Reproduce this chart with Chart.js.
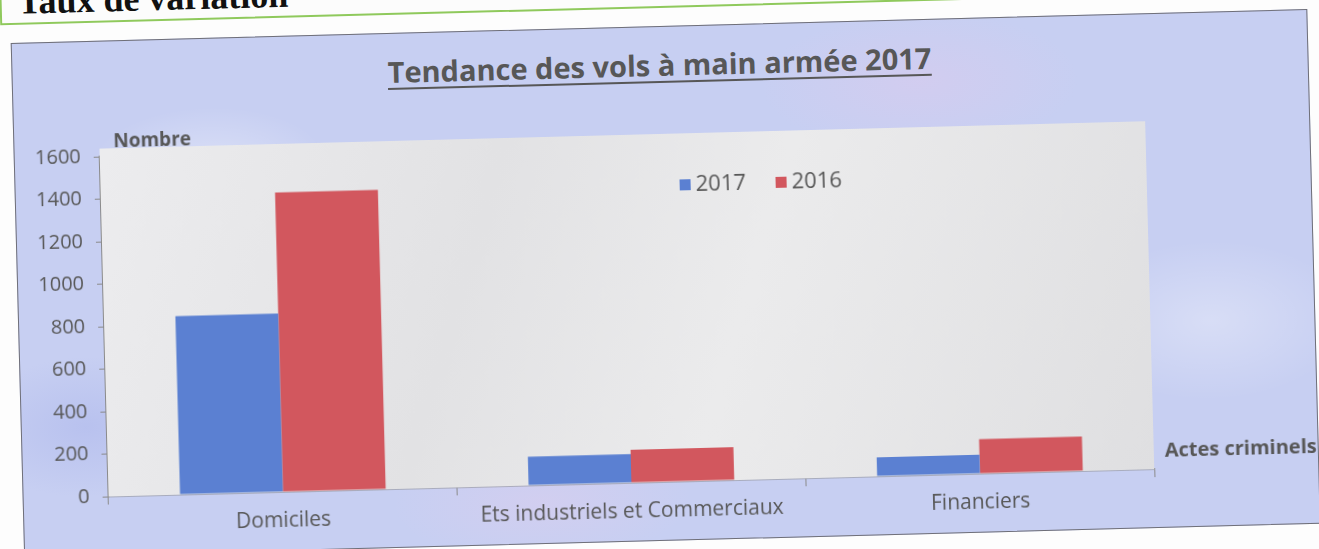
<!DOCTYPE html>
<html>
<head>
<meta charset="utf-8">
<script src="https://cdn.jsdelivr.net/npm/chart.js@4/dist/chart.umd.min.js"></script>
<style>
  html,body{margin:0;padding:0;background:#fdfdfd;overflow:hidden;width:1319px;height:549px;}
  #page{position:absolute;left:0;top:0;width:1319px;height:549px;transform:rotate(-1.5deg);transform-origin:660px 275px;}
  #greenbox{position:absolute;left:7px;top:-70px;width:1050px;height:74px;border:2px solid #8fc95c;background:#fcfcfc;}
  #greenbox span{position:absolute;left:16px;bottom:0px;font:bold 36px "Liberation Serif",serif;color:#111;}
  #frame{position:absolute;left:17px;top:26px;width:1295px;height:513px;border:1.5px solid #6f6f78;
    background:
      radial-gradient(ellipse 120px 60px at 15% 25%, rgba(255,255,255,0.35), transparent),
      radial-gradient(ellipse 160px 70px at 70% 12%, rgba(230,200,235,0.35), transparent),
      radial-gradient(ellipse 140px 80px at 92% 60%, rgba(255,255,255,0.30), transparent),
      radial-gradient(ellipse 150px 60px at 40% 92%, rgba(230,205,235,0.35), transparent),
      radial-gradient(ellipse 120px 70px at 5% 75%, rgba(170,180,235,0.5), transparent),
      #c7cff2;}
  #title{position:absolute;left:0;width:1330px;top:45px;text-align:center;font:bold 29px "Open Sans",sans-serif;color:#575757;text-decoration:underline;text-underline-offset:5px;text-decoration-thickness:2px;}
  canvas{position:absolute;left:0;top:0;}
</style>
</head>
<body>
<div id="page">
  <div id="greenbox"><span>Taux de variation</span></div>
  <div id="frame"></div>
  <div id="title">Tendance des vols à main armée 2017</div>
  <canvas id="c" width="1319" height="549"></canvas>
</div>
<script>
// ---- data ----
const categories = ['Domiciles', 'Ets industriels et Commerciaux', 'Financiers'];
const seriesNames = ['2017', '2016'];
const values2017 = [840, 135, 90];
const values2016 = [1410, 155, 162];
const yTickMin = 0, yTickMax = 1600, yTickStep = 200;
const yAxisTitle = 'Nombre';
const xAxisTitle = 'Actes criminels';

const blue = '#5b80d2';
const red = '#d2575e';
const textGray = '#575757';
const axisGray = '#8a8a8a';

const marblePlugin = {
  id: 'marble',
  beforeDatasetsDraw(chart) {
    const {ctx, chartArea: a} = chart;
    ctx.save();
    const g = ctx.createLinearGradient(a.left, a.top, a.right, a.bottom);
    g.addColorStop(0, '#ececee');
    g.addColorStop(0.35, '#e2e2e4');
    g.addColorStop(0.6, '#ebebec');
    g.addColorStop(1, '#dfdfe1');
    ctx.fillStyle = g;
    ctx.fillRect(a.left, a.top - 8, a.right - a.left, a.bottom - a.top + 8);
    ctx.restore();
  }
};

const labelsPlugin = {
  id: 'extraLabels',
  afterDraw(chart, args, opts) {
    const {ctx, chartArea: a} = chart;
    ctx.save();
    ctx.fillStyle = textGray;
    ctx.font = 'bold 19px "Open Sans", sans-serif';
    ctx.textBaseline = 'middle';
    ctx.textAlign = 'left';
    ctx.fillText(yAxisTitle, a.left + 14, a.top - 14);
    ctx.font = 'bold 20px "Open Sans", sans-serif';
    ctx.fillText(xAxisTitle, a.right + 11, a.bottom - 18);
    // legend
    ctx.font = '22px "Open Sans", sans-serif';
    let x = opts.x;
    chart.data.datasets.forEach(ds => {
      ctx.fillStyle = ds.backgroundColor;
      ctx.fillRect(x, opts.y - 5, 11, 11);
      ctx.fillStyle = textGray;
      ctx.fillText(ds.label, x + 16, opts.y + 1);
      x += 96;
    });
    ctx.restore();
  }
};

new Chart(document.getElementById('c'), {
  type: 'bar',
  data: {
    labels: categories,
    datasets: [
      {label: seriesNames[0], data: values2017, backgroundColor: blue},
      {label: seriesNames[1], data: values2016, backgroundColor: red}
    ]
  },
  options: {
    responsive: false,
    animation: false,
    layout: {padding: {left: 0, right: 170, top: 142, bottom: 0}},
    datasets: {bar: {categoryPercentage: 0.59, barPercentage: 1.0}},
    plugins: {
      legend: {display: false},
      tooltip: {enabled: false},
      extraLabels: {x: 682, y: 185}
    },
    scales: {
      x: {
        afterFit: s => { s.height = 67; },
        grid: {offset: true, drawOnChartArea: false, drawTicks: true, tickLength: 8, color: axisGray},
        border: {display: true, color: axisGray, width: 1.5},
        ticks: {color: textGray, padding: 8, font: {family: 'Open Sans', size: 21}, maxRotation: 0}
      },
      y: {
        min: yTickMin, max: yTickMax,
        afterFit: s => { s.width = 103; },
        grid: {drawOnChartArea: false, drawTicks: true, tickLength: 6, color: axisGray},
        border: {display: true, color: axisGray, width: 1.5},
        ticks: {stepSize: yTickStep, color: textGray, padding: 13, font: {family: 'Open Sans', size: 20},
                callback: v => String(v)}
      }
    }
  },
  plugins: [marblePlugin, labelsPlugin]
});
</script>
</body>
</html>
